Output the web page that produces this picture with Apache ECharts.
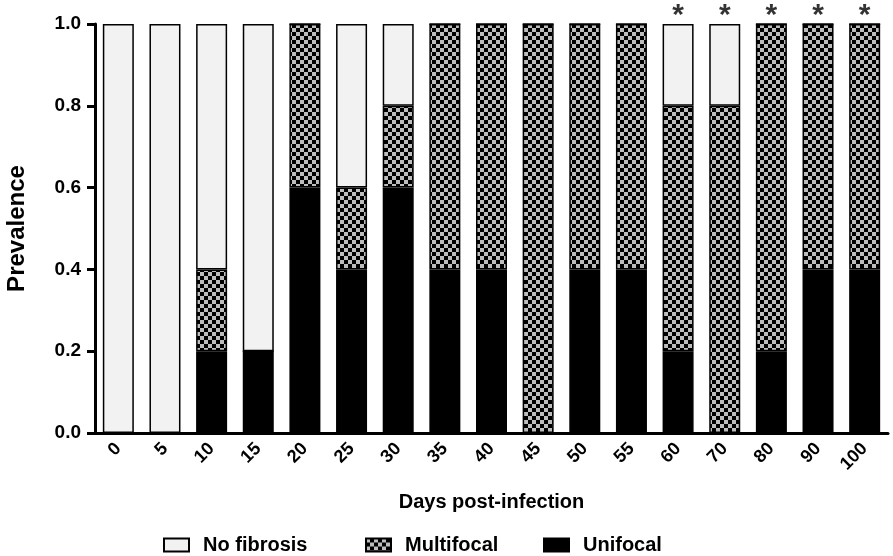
<!DOCTYPE html>
<html>
<head>
<meta charset="utf-8" />
<script src="https://cdn.jsdelivr.net/npm/echarts@6/dist/echarts.min.js"></script>
<title>Prevalence of fibrosis</title>
<style>
  html, body { margin: 0; padding: 0; background: #fff; }
  #chart { width: 893px; height: 556px; }
</style>
</head>
<body>
<div id="chart"></div>
<script>
// days post-infection
var days = ['0','5','10','15','20','25','30','35','40','45','50','55','60','70','80','90','100'];
// stacked fractions, bottom to top
var unifocal   = [0, 0, 0.2, 0.2, 0.6, 0.4, 0.6, 0.4, 0.4, 0,   0.4, 0.4, 0.2, 0,   0.2, 0.4, 0.4];
var multifocal = [0, 0, 0.2, 0,   0.4, 0.2, 0.2, 0.6, 0.6, 1,   0.6, 0.6, 0.6, 0.8, 0.8, 0.6, 0.6];
var noFibrosis = [1, 1, 0.6, 0.8, 0,   0.4, 0.2, 0,   0,   0,   0,   0,   0.2, 0.2, 0,   0,   0];
// days marked with an asterisk
var starred = ['60','70','80','90','100'];
var yTicks = [0, 0.2, 0.4, 0.6, 0.8, 1.0];

var FONT = '"Liberation Sans", Arial, sans-serif';

// checkerboard fill for the multifocal bars
function checker() {
    var c = document.createElement('canvas');
    c.width = 8; c.height = 8;
    var g = c.getContext('2d');
    g.fillStyle = '#000';
    g.fillRect(0, 0, 8, 8);
    g.fillStyle = '#bdbdbd';
    g.fillRect(0, 0, 4, 4);
    g.fillRect(4, 4, 4, 4);
    return { image: c, repeat: 'repeat' };
}

var chart = echarts.init(document.getElementById('chart'));

var legendBase = {
    top: 530,
    icon: 'rect',
    itemWidth: 25,
    itemHeight: 13,
    textStyle: { fontFamily: FONT, fontSize: 20, fontWeight: 'bold', color: '#000', padding: [0, 0, 0, 9] }
};

var option = {
    backgroundColor: '#fff',
    animation: false,
    grid: { left: 95, right: 5, top: 24, bottom: 123, containLabel: false, outerBoundsMode: 'none' },
    legend: [
        Object.assign({ left: 158, data: ['No fibrosis'] }, legendBase),
        Object.assign({ left: 360, data: ['Multifocal'] }, legendBase),
        Object.assign({ left: 538, data: ['Unifocal'] }, legendBase)
    ],
    xAxis: {
        type: 'category',
        data: days,
        name: 'Days post-infection',
        nameLocation: 'middle',
        nameGap: 59,
        nameTextStyle: { fontFamily: FONT, fontSize: 20, fontWeight: 'bold', color: '#000' },
        axisLine: { lineStyle: { color: '#000', width: 3 } },
        axisTick: { alignWithLabel: true, length: 8, lineStyle: { color: '#000', width: 3 } },
        axisLabel: { rotate: 45, margin: 13, fontFamily: FONT, fontSize: 18, fontWeight: 'bold', color: '#000' }
    },
    yAxis: {
        type: 'value',
        min: 0,
        max: 1,
        interval: 0.2,
        name: 'Prevalence',
        nameLocation: 'middle',
        nameGap: 66,
        nameTextStyle: { fontFamily: FONT, fontSize: 24, fontWeight: 'bold', color: '#000' },
        splitLine: { show: false },
        axisLine: { show: true, lineStyle: { color: '#000', width: 3 } },
        axisTick: { show: true, length: 8, lineStyle: { color: '#000', width: 3 } },
        axisLabel: {
            margin: 14, fontFamily: FONT, fontSize: 19, fontWeight: 'bold', color: '#000',
            formatter: function (v) { return yTicks.indexOf(v) >= 0 ? v.toFixed(1) : ''; }
        }
    },
    series: [
        {
            name: 'Unifocal', type: 'bar', stack: 'p', barWidth: 31, data: unifocal,
            itemStyle: { color: '#000', borderColor: '#000', borderWidth: 1.5 }
        },
        {
            name: 'Multifocal', type: 'bar', stack: 'p', barWidth: 31, data: multifocal,
            itemStyle: { color: checker(), borderColor: '#000', borderWidth: 1.5 }
        },
        {
            name: 'No fibrosis', type: 'bar', stack: 'p', barWidth: 31, data: noFibrosis,
            itemStyle: { color: '#f2f2f2', borderColor: '#000', borderWidth: 1.5 }
        },
        {
            name: 'sig', type: 'scatter', symbolSize: 0, silent: true,
            data: starred.map(function (d) { return [d, 1]; }),
            label: {
                show: true, position: 'top', distance: 0, offset: [0, 7], formatter: '*',
                fontFamily: FONT, fontSize: 30, fontWeight: 'bold', color: '#000'
            }
        }
    ]
};
chart.setOption(option);
</script>
</body>
</html>
